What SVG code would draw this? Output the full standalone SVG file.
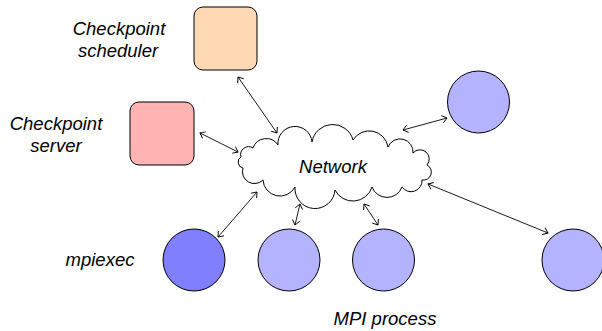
<svg xmlns="http://www.w3.org/2000/svg" width="602" height="331" viewBox="0 0 602 331">
<style>
.lbl{font-family:"Liberation Sans",Arial,sans-serif;font-style:italic;font-size:18.5px;fill:#000;text-anchor:middle}
.box{stroke:#000;stroke-width:1}
.proc{fill:#B3B3FF;stroke:#000;stroke-width:1}
.con{fill:none;stroke:#000;stroke-width:0.9;marker-start:url(#ah);marker-end:url(#ah)}
</style>
<defs>
<marker id="ah" viewBox="-6 -5 8 10" markerWidth="8" markerHeight="10" refX="0" refY="0" orient="auto-start-reverse" markerUnits="userSpaceOnUse">
<path d="M -4.5 -3.5 Q -1 -0.8 0 0 Q -1 0.8 -4.5 3.5" fill="none" stroke="#000" stroke-width="0.9" stroke-linecap="round"/>
</marker>
</defs>
<g id="scheduler">
<rect class="box" x="194" y="7" width="63" height="63" rx="9" fill="#FFD9B3"/>
<text class="lbl" x="119" y="35">Checkpoint</text>
<text class="lbl" x="118" y="57">scheduler</text>
</g>
<g id="server">
<rect class="box" x="130" y="102" width="64" height="63" rx="9" fill="#FFB3B3"/>
<text class="lbl" x="56" y="130">Checkpoint</text>
<text class="lbl" x="56" y="152">server</text>
</g>
<g id="network">
<path d="M 253 148 A 14 14 0 0 1 278 145 A 17 17 0 0 1 312 142 A 21 21 0 0 1 353 140 A 19 19 0 0 1 388 147 A 13 13 0 0 1 413 153 A 9 9 0 0 1 427 165 A 8 8 0 0 1 422 180 A 11 11 0 0 1 402 187 A 16 16 0 0 1 372 187 A 20 20 0 0 1 335 190 A 20 20 0 0 1 295 187 A 17 17 0 0 1 263 180 A 12 12 0 0 1 243 168 A 6 6 0 0 1 241 157 A 8 8 0 0 1 253 148 Z" fill="#fff" stroke="#000" stroke-width="1"/>
<text class="lbl" x="333" y="173">Network</text>
</g>
<g id="mpiexec">
<circle cx="194" cy="260" r="31" fill="#8080FF" stroke="#000" stroke-width="1"/>
<text class="lbl" x="100" y="266">mpiexec</text>
</g>
<g id="proc1"><circle class="proc" cx="289" cy="260" r="31"/></g>
<g id="proc2"><circle class="proc" cx="383.5" cy="260" r="31"/></g>
<g id="proc3"><circle class="proc" cx="478.5" cy="102" r="31"/></g>
<g id="proc4"><circle class="proc" cx="573" cy="260" r="31"/></g>
<text class="lbl" x="385" y="325">MPI process</text>
<g id="connectors">
<line class="con" x1="238" y1="77" x2="277" y2="133"/>
<line class="con" x1="200" y1="133" x2="238" y2="152"/>
<line class="con" x1="403" y1="130" x2="447" y2="118"/>
<line class="con" x1="428" y1="184" x2="548" y2="233"/>
<line class="con" x1="218" y1="237" x2="257" y2="192"/>
<line class="con" x1="300" y1="204" x2="295" y2="225"/>
<line class="con" x1="364" y1="204" x2="378" y2="225"/>
</g>
</svg>
